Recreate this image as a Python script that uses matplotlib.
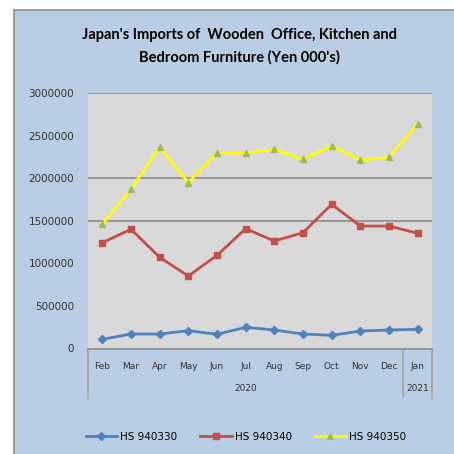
import matplotlib
matplotlib.use("Agg")
import matplotlib.pyplot as plt
from matplotlib.patches import Rectangle
from matplotlib.lines import Line2D
import matplotlib.transforms as mtransforms

months = ['Feb', 'Mar', 'Apr', 'May', 'Jun', 'Jul', 'Aug', 'Sep', 'Oct', 'Nov', 'Dec', 'Jan']
years = ['2020', '2021']
hs940330 = [108000, 170000, 170000, 209000, 167000, 249000, 217000, 170000, 155000, 205000, 217000, 225000]
hs940340 = [1242000, 1400000, 1071000, 851000, 1094000, 1407000, 1262000, 1360000, 1693000, 1438000, 1438000, 1353000]
hs940350 = [1458000, 1869000, 2362000, 1947000, 2299000, 2292000, 2339000, 2221000, 2378000, 2213000, 2245000, 2633000]
yticks = [0, 500000, 1000000, 1500000, 2000000, 2500000, 3000000]
grid_at = [1500000, 2000000, 3000000]

fig = plt.figure(figsize=(4.54, 4.54), dpi=100)
fig.patch.set_facecolor('white')

# blue panel behind everything
W, H = 454, 454
panel = Rectangle((14 / W, 0), 1 - 14 / W, 1 - 10 / H, transform=fig.transFigure,
                  facecolor='#B9CDE5', edgecolor='none', zorder=-10)
fig.patches.append(panel)
fig.lines.append(Line2D([14 / W, 1], [1 - 10 / H, 1 - 10 / H], transform=fig.transFigure,
                        color='#8C8C8C', lw=1.2, zorder=-5))
fig.lines.append(Line2D([14 / W, 14 / W], [0, 1 - 10 / H], transform=fig.transFigure,
                        color='#8C8C8C', lw=1.2, zorder=-5))

fig.text(239 / W, 1 - 35 / H, "Japan's Imports of  Wooden  Office, Kitchen and", ha='center', va='center',
         fontsize=10.5, fontweight='bold', family='Lato')
fig.text(239 / W, 1 - 57 / H, "Bedroom Furniture (Yen 000's)", ha='center', va='center',
         fontsize=10.5, fontweight='bold', family='Lato')

ax = fig.add_axes([88 / W, 1 - 348.5 / H, 344 / W, 255.5 / H])
ax.set_facecolor('#D9D9D9')
x = list(range(len(months)))

l1, = ax.plot(x, hs940330, color='#4F81BD', lw=2.0, marker='D', ms=4, mfc='#4F81BD', mec='#4F81BD', zorder=3)
l2, = ax.plot(x, hs940340, color='#C0504D', lw=2.0, marker='s', ms=4, mfc='#C0504D', mec='#C0504D', zorder=3)
l3, = ax.plot(x, hs940350, color='#FFFF00', lw=2.0, marker='^', ms=5, mfc='#9BBB59', mec='#9BBB59', zorder=3)

ax.set_xlim(-0.5, len(months) - 0.5)
ax.set_ylim(0, 3000000)
ax.set_yticks(yticks)
ax.set_yticklabels([str(v) for v in yticks], fontsize=7.5, color='#333333')
ax.tick_params(axis='y', length=0, pad=10)
ax.tick_params(axis='x', length=0, pad=10)
ax.set_xticks(x)
ax.set_xticklabels(months, fontsize=6.5, color='#333333')
for g in grid_at:
    ax.axhline(g, color='#8C8C8C', lw=1.2, zorder=1)
for s in ['top', 'right', 'left']:
    ax.spines[s].set_visible(False)
ax.spines['bottom'].set_color('#8C8C8C')
ax.spines['bottom'].set_linewidth(1.2)

# category group separators and year labels
trans = mtransforms.blended_transform_factory(ax.transData, ax.transAxes)
for sx in [-0.5, 10.5, 11.5]:
    ax.plot([sx, sx], [0, -0.19], transform=trans, color='#A0A0A0', lw=1.2, clip_on=False)
ax.text(5, -0.158, years[0], transform=trans, ha='center', va='center', fontsize=6.5, color='#333333')
ax.text(11, -0.158, years[1], transform=trans, ha='center', va='center', fontsize=6.5, color='#333333')

fig.legend([l1, l2, l3], ['HS 940330', 'HS 940340', 'HS 940350'], loc='center',
           bbox_to_anchor=(246 / W, 1 - 437 / H), ncol=3, frameon=False, fontsize=7.5,
           handlelength=3, columnspacing=2.2, handletextpad=0.3)

fig.savefig('out.png', dpi=100, facecolor=fig.get_facecolor())
